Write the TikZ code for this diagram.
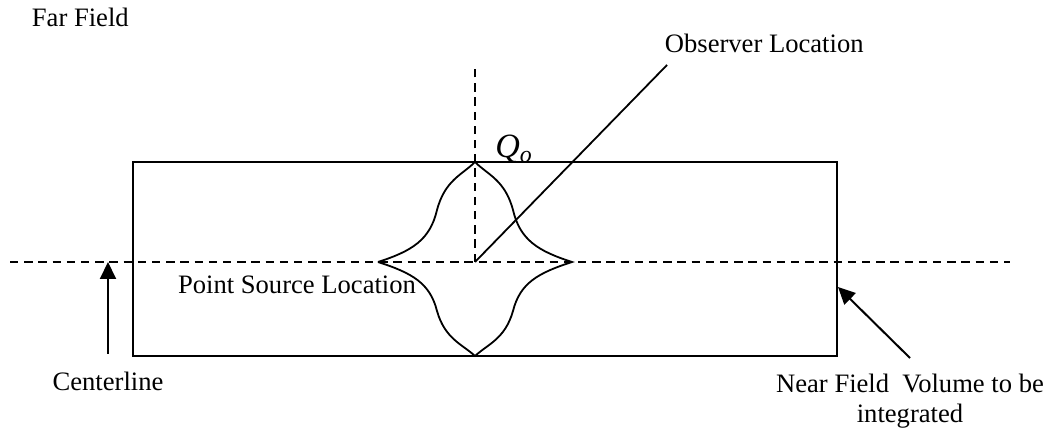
\documentclass[tikz,border=0pt]{standalone}
\usepackage{fontspec}
\setmainfont{Liberation Serif}
\usepackage{tikz}
\usetikzlibrary{arrows.meta,positioning,calc}
\tikzset{textnode/.style={inner sep=1pt, font=\fontsize{13.3}{15}\selectfont}}
\tikzset{arrow/.style={line width=1pt, -{Triangle[width=8pt,length=8.5pt]}}}
\tikzset{dashline/.style={line width=0.9pt, dash pattern=on 4.2pt off 2.9pt}}

\begin{document}
\begin{tikzpicture}[x=0.5pt, y=-0.5pt, line width=0.9pt]
  \useasboundingbox (0,0) rectangle (1055,432);

  \node[textnode, anchor=west] (far-field) at (29,17) {Far Field};
  \node[textnode, anchor=west] (observer) at (662,43) {Observer Location};
  \node[textnode] (point-source) at (297,285) {Point Source Location};
  \node[textnode] (centerline) at (108,381) {Centerline};
  \node[textnode, align=center] (near-field) at (910,401) {Near Field\ \ Volume to be\\integrated};
  \node[textnode, font=\fontsize{17}{19}\selectfont] (q-o) at (514,149) {\textit{Q}\textsubscript{\textit{o}}};

  \coordinate (src) at (475,262);
  \coordinate (axis-left) at (10,262);
  \coordinate (axis-right) at (1010,262);
  \coordinate (axis-top) at (475,68);
  \coordinate (observer-end) at (667,65);
  \coordinate (centerline-tip) at (108,262);
  \coordinate (near-tail) at (910,358);
  \coordinate (near-tip) at (838,287);

  \draw (133,162) rectangle (837,356);

  \draw (378,262) .. controls (412,251) and (430,240) .. (437,210)
                  .. controls (445,180) and (462,175) .. (475,162)
                  .. controls (488,175) and (505,180) .. (513,210)
                  .. controls (520,240) and (538,251) .. (572,262)
                  .. controls (538,273) and (520,283) .. (513,311)
                  .. controls (505,339) and (488,344) .. (475,356)
                  .. controls (462,344) and (445,339) .. (437,311)
                  .. controls (430,283) and (412,273) .. (378,262);

  \draw[dashline] (axis-left) -- (axis-right);
  \draw[dashline] (src) -- (axis-top);
  \draw (src) -- (observer-end);

  \draw[arrow, shorten <=7.5pt] (centerline.north) -- (centerline-tip);
  \draw[arrow] (near-tail) -- (near-tip);
\end{tikzpicture}
\end{document}
